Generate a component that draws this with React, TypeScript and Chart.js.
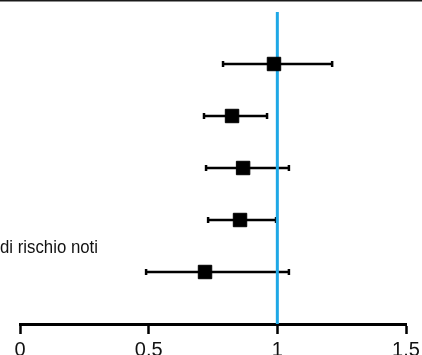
import React, { useEffect, useRef } from "react";
import { Chart, registerables } from "chart.js";

Chart.register(...registerables);

const rows = [1, 2, 3, 4, 5];
const estimates = [0.987, 0.824, 0.867, 0.855, 0.719];
const lower = [0.789, 0.715, 0.723, 0.731, 0.49];
const upper = [1.213, 0.96, 1.045, 0.995, 1.045];
const xTicks = [0, 0.5, 1, 1.5];
const referenceValue = 1;
const rowLabel = "di rischio noti";

export default function App() {
  const ref = useRef<HTMLCanvasElement | null>(null);

  useEffect(() => {
    document.body.style.margin = "0";
    const canvas = ref.current;
    if (!canvas) return;

    const whiskers = rows.map((r, i) => ({
      type: "line" as const,
      data: [
        { x: lower[i], y: r },
        { x: upper[i], y: r },
      ],
      borderColor: "#000",
      borderWidth: 2.5,
      pointStyle: "line" as const,
      pointRotation: 90,
      pointRadius: 3,
      pointBorderWidth: 2.5,
      pointBorderColor: "#000",
      pointBackgroundColor: "#000",
      order: 3,
    }));

    const labelPlugin = {
      id: "extras",
      afterDraw(chart: any) {
        const ctx = chart.ctx;
        ctx.save();
        ctx.fillStyle = "#1a1a1a";
        ctx.fillRect(0, 0, chart.width, 1.5);
        ctx.fillStyle = "#111";
        ctx.font = '18px "Liberation Sans", Arial, sans-serif';
        ctx.textAlign = "left";
        ctx.textBaseline = "alphabetic";
        const y = chart.scales.y.getPixelForValue(4.5);
        const w = ctx.measureText(rowLabel).width;
        const sx = 98 / w;
        ctx.translate(0, y + 7);
        ctx.scale(sx, 1);
        ctx.fillText(rowLabel, 0, 0);
        ctx.restore();
      },
    };

    const chart = new Chart(canvas, {
      type: "scatter",
      data: {
        datasets: [
          {
            type: "scatter",
            data: rows.map((r, i) => ({ x: estimates[i], y: r })),
            pointStyle: "rect",
            pointRadius: 9.5,
            backgroundColor: "#000",
            borderColor: "#000",
            borderWidth: 1,
            order: 1,
          } as any,
          {
            type: "line",
            data: [
              { x: referenceValue, y: 0 },
              { x: referenceValue, y: 6 },
            ],
            borderColor: "#1ea8e6",
            borderWidth: 3,
            pointRadius: 0,
            order: 2,
          } as any,
          ...whiskers,
        ],
      },
      options: {
        animation: false,
        responsive: false,
        maintainAspectRatio: false,
        layout: { padding: { left: 20, right: 16, top: 12, bottom: 0 } },
        plugins: { legend: { display: false }, tooltip: { enabled: false } },
        scales: {
          x: {
            type: "linear",
            min: 0,
            max: 1.5,
            afterBuildTicks: (s: any) => {
              s.ticks = xTicks.map((v) => ({ value: v }));
            },
            afterFit: (s: any) => {
              s.height = 31;
              s.paddingLeft = 0;
              s.paddingRight = 0;
            },
            grid: {
              drawOnChartArea: false,
              drawTicks: true,
              tickLength: 10,
              tickWidth: 2.5,
              tickColor: "#000",
            },
            border: { display: true, color: "#000", width: 3 },
            ticks: {
              color: "#111",
              padding: 4,
              font: { family: '"Liberation Sans"', size: 20 },
              maxRotation: 0,
              callback: (v: any) => String(v),
            },
          },
          y: {
            type: "linear",
            display: false,
            reverse: true,
            min: 0,
            max: 6,
          },
        },
      },
      plugins: [labelPlugin],
    } as any);

    return () => chart.destroy();
  }, []);

  return (
    <div style={{ width: 422, height: 355, overflow: "hidden" }}>
      <canvas ref={ref} width={422} height={355} style={{ display: "block" }} />
    </div>
  );
}
